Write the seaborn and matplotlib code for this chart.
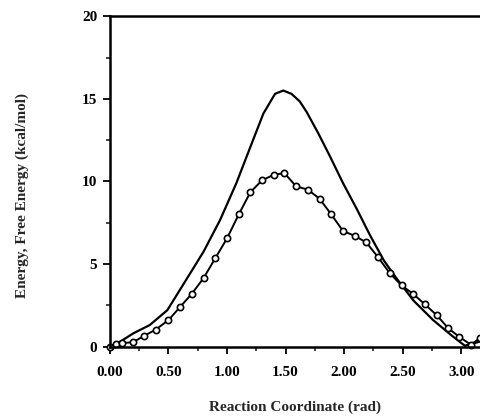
import matplotlib
matplotlib.use("Agg")
import matplotlib.pyplot as plt
import seaborn as sns
from matplotlib.ticker import MultipleLocator

# ─── Dane ────────────────────────────────────────────────────────────
energy_x = [0.00, 0.10, 0.20, 0.34, 0.49, 0.63, 0.80, 0.94, 1.08, 1.20,
            1.31, 1.41, 1.48, 1.55, 1.62, 1.68, 1.78, 1.88, 1.99, 2.11,
            2.22, 2.34, 2.45, 2.59, 2.76, 2.93, 3.03, 3.16]
energy_y = [0.0, 0.35, 0.8, 1.3, 2.2, 3.8, 5.75, 7.65, 9.9, 12.1,
            14.1, 15.3, 15.5, 15.3, 14.85, 14.2, 12.9, 11.5, 9.9, 8.3,
            6.75, 5.2, 4.1, 2.8, 1.6, 0.6, 0.05, 0.3]

free_x = [0.00, 0.05, 0.10, 0.20, 0.29, 0.39, 0.50, 0.60, 0.70, 0.80,
          0.90, 1.00, 1.10, 1.20, 1.30, 1.40, 1.49, 1.59, 1.69, 1.79,
          1.89, 1.99, 2.09, 2.19, 2.29, 2.39, 2.49, 2.59, 2.69, 2.79,
          2.89, 2.98, 3.08, 3.16]
free_y = [0.0, 0.13, 0.2, 0.27, 0.64, 1.02, 1.6, 2.4, 3.2, 4.15,
          5.35, 6.55, 8.0, 9.35, 10.07, 10.4, 10.5, 9.7, 9.5, 8.95,
          8.0, 7.0, 6.7, 6.3, 5.4, 4.44, 3.7, 3.18, 2.55, 1.9,
          1.1, 0.6, 0.12, 0.5]

x_ticks = [0.0, 0.5, 1.0, 1.5, 2.0, 2.5, 3.0]
x_ticklabels = ["0.00", "0.50", "1.00", "1.50", "2.00", "2.50", "3.00"]
y_ticks = [0, 5, 10, 15, 20]

# ─── Styl ────────────────────────────────────────────────────────────
sns.set_style("ticks")
plt.rcParams.update({
    'font.family': ['Liberation Serif', 'DejaVu Serif'],
    'font.weight': 'bold',
    'axes.labelweight': 'bold',
    'font.size': 11,
})

fig = plt.figure(figsize=(4.8, 4.16), dpi=100)
ax = fig.add_axes([0.229, 0.167, 0.771, 0.794])

sns.lineplot(x=energy_x, y=energy_y, ax=ax, color='black', linewidth=1.6,
             sort=False, estimator=None)
sns.lineplot(x=free_x, y=free_y, ax=ax, color='black', linewidth=1.4,
             marker='o', markersize=4.5, markerfacecolor='white',
             markeredgecolor='black', markeredgewidth=1.2,
             sort=False, estimator=None, clip_on=False)

ax.set_xlim(0, 3.16)
ax.set_ylim(0, 20)
ax.set_xticks(x_ticks)
ax.set_xticklabels(x_ticklabels)
ax.set_yticks(y_ticks)
ax.xaxis.set_minor_locator(MultipleLocator(0.25))
ax.yaxis.set_minor_locator(MultipleLocator(2.5))
ax.tick_params(which='major', direction='out', length=5, width=1.3,
               labelsize=11, colors='black')
ax.tick_params(axis='x', which='major', pad=9)
ax.tick_params(axis='y', which='major', pad=4)
ax.tick_params(which='minor', direction='out', length=3, width=1.2)

for side in ['left', 'bottom', 'top']:
    ax.spines[side].set_visible(True)
    ax.spines[side].set_linewidth(1.8)
    ax.spines[side].set_color('black')
ax.spines['right'].set_visible(False)

ax.set_xlabel("Reaction Coordinate (rad)", fontsize=11, va='center')
ax.set_ylabel("Energy, Free Energy (kcal/mol)", fontsize=11, va='center')
ax.xaxis.set_label_coords(0.5, -0.183)
ax.yaxis.set_label_coords(-0.238, 0.456)

fig.savefig("out.png", dpi=100)
